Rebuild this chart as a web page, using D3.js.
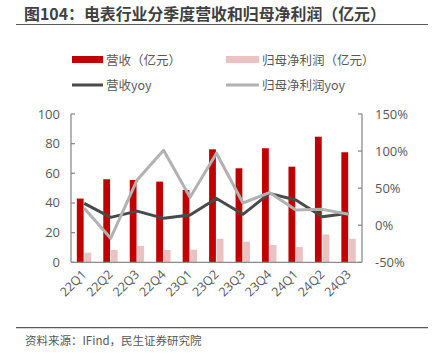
<!DOCTYPE html>
<html><head><meta charset="utf-8">
<script src="https://cdn.jsdelivr.net/npm/d3@7/dist/d3.min.js"></script>
<style>body{margin:0;background:#fff;}svg{display:block;font-family:"Noto Sans CJK SC","Noto Sans",sans-serif;}</style>
</head><body><svg id="c" width="435" height="361"></svg>
<script>
const categories = ["22Q1","22Q2","22Q3","22Q4","23Q1","23Q2","23Q3","23Q4","24Q1","24Q2","24Q3"];
const revenue = [43, 56, 55.5, 54.4, 48.8, 76.2, 63.4, 76.9, 64.5, 84.7, 74.2];
const netProfit = [6.5, 8.3, 11, 8.3, 8.5, 15.9, 13.9, 11.7, 10.3, 18.8, 15.9];
const revenueYoy = [29.5, 10.6, 19, 9.3, 13.8, 36, 14.7, 43, 34, 11.5, 16];
const profitYoy = [22.8, -17.7, 61, 101, 37.6, 97, 30, 44, 20.5, 21.4, 14.7];
const leftTicks = [0,20,40,60,80,100];
const rightTicks = [-50,0,50,100,150];

const svg = d3.select("#c");
const L = 71, R = 362, T = 114, B = 262.3;
const x = d3.scaleBand().domain(categories).range([L, R]);
const yL = d3.scaleLinear().domain([0,100]).range([B, T]);
const yR = d3.scaleLinear().domain([-50,150]).range([B, T]);
const red = "#C00000", pink = "#EBC1C2", dark = "#4a4a4a", light = "#b2b2b2", axisC = "#8c8c8c", txtC = "#595959";

// title
svg.append("text").attr("x",24).attr("y",20).attr("font-size",15.9).attr("font-weight","bold").attr("fill","#404040").text("图104：电表行业分季度营收和归母净利润（亿元）");
svg.append("line").attr("x1",16).attr("x2",428).attr("y1",24.5).attr("y2",24.5).attr("stroke","#595959").attr("stroke-width",1.2);

// legend
const lg = svg.append("g").attr("font-size",12.5).attr("fill",txtC);
lg.append("rect").attr("x",72).attr("y",56).attr("width",31).attr("height",7).attr("fill",red);
lg.append("text").attr("x",106).attr("y",64.5).attr("fill",txtC).text("营收（亿元）");
lg.append("rect").attr("x",226).attr("y",56).attr("width",33).attr("height",7).attr("fill",pink);
lg.append("text").attr("x",262).attr("y",64.5).attr("fill",txtC).text("归母净利润（亿元）");
lg.append("line").attr("x1",72).attr("x2",103).attr("y1",85).attr("y2",85).attr("stroke",dark).attr("stroke-width",3);
lg.append("text").attr("x",106).attr("y",89.5).attr("fill",txtC).text("营收yoy");
lg.append("line").attr("x1",226).attr("x2",259).attr("y1",85).attr("y2",85).attr("stroke",light).attr("stroke-width",3);
lg.append("text").attr("x",262).attr("y",89.5).attr("fill",txtC).text("归母净利润yoy");

// bars
const bw = 6.8;
svg.append("g").selectAll("rect").data(categories).join("rect")
  .attr("x",(d)=>x(d)+x.bandwidth()/2-bw-0.6).attr("width",bw)
  .attr("y",(d,i)=>yL(revenue[i])).attr("height",(d,i)=>B-yL(revenue[i])).attr("fill",red);
svg.append("g").selectAll("rect").data(categories).join("rect")
  .attr("x",(d)=>x(d)+x.bandwidth()/2+0.2).attr("width",bw)
  .attr("y",(d,i)=>yL(netProfit[i])).attr("height",(d,i)=>B-yL(netProfit[i])).attr("fill",pink);

// lines
const line = d3.line().x((d,i)=>x(categories[i])+x.bandwidth()/2).y(d=>yR(d));
svg.append("path").datum(revenueYoy).attr("d",line).attr("fill","none").attr("stroke",dark).attr("stroke-width",3).attr("stroke-linejoin","round");
svg.append("path").datum(profitYoy).attr("d",line).attr("fill","none").attr("stroke",light).attr("stroke-width",3).attr("stroke-linejoin","round");

// axes
const ax = svg.append("g").attr("stroke",axisC).attr("stroke-width",1.3);
ax.append("line").attr("x1",L).attr("x2",L).attr("y1",T).attr("y2",B);
ax.append("line").attr("x1",R).attr("x2",R).attr("y1",T).attr("y2",B);
ax.append("line").attr("x1",L).attr("x2",R).attr("y1",B).attr("y2",B);
ax.selectAll(".lt").data(leftTicks).join("line").attr("x1",L).attr("x2",L+4).attr("y1",d=>yL(d)).attr("y2",d=>yL(d));
ax.selectAll(".rt").data(rightTicks).join("line").attr("class","rt").attr("x1",R-4).attr("x2",R).attr("y1",d=>yR(d)).attr("y2",d=>yR(d));

svg.append("g").selectAll("text").data(leftTicks).join("text")
  .attr("x",60).attr("y",d=>yL(d)+4.5).attr("text-anchor","end").attr("font-size",13).attr("fill",txtC).attr("font-family","Open Sans, sans-serif").text(d=>d);
svg.append("g").selectAll("text").data(rightTicks).join("text")
  .attr("x",375).attr("y",d=>yR(d)+4.5).attr("text-anchor","start").attr("font-size",13).attr("fill",txtC).attr("font-family","Open Sans, sans-serif").text(d=>d+"%");

svg.append("g").selectAll("text").data(categories).join("text")
  .attr("transform",d=>`translate(${x(d)+x.bandwidth()/2+3},${B+13}) rotate(-45)`)
  .attr("text-anchor","end").attr("font-size",12.5).attr("fill",txtC).attr("font-family","Open Sans, sans-serif").text(d=>d);

// footer
svg.append("line").attr("x1",16).attr("x2",428).attr("y1",327.7).attr("y2",327.7).attr("stroke","#595959").attr("stroke-width",1.2);
svg.append("text").attr("x",25).attr("y",345).attr("font-size",11.5).attr("fill",txtC).text("资料来源：IFind，民生证券研究院");
</script></body></html>
